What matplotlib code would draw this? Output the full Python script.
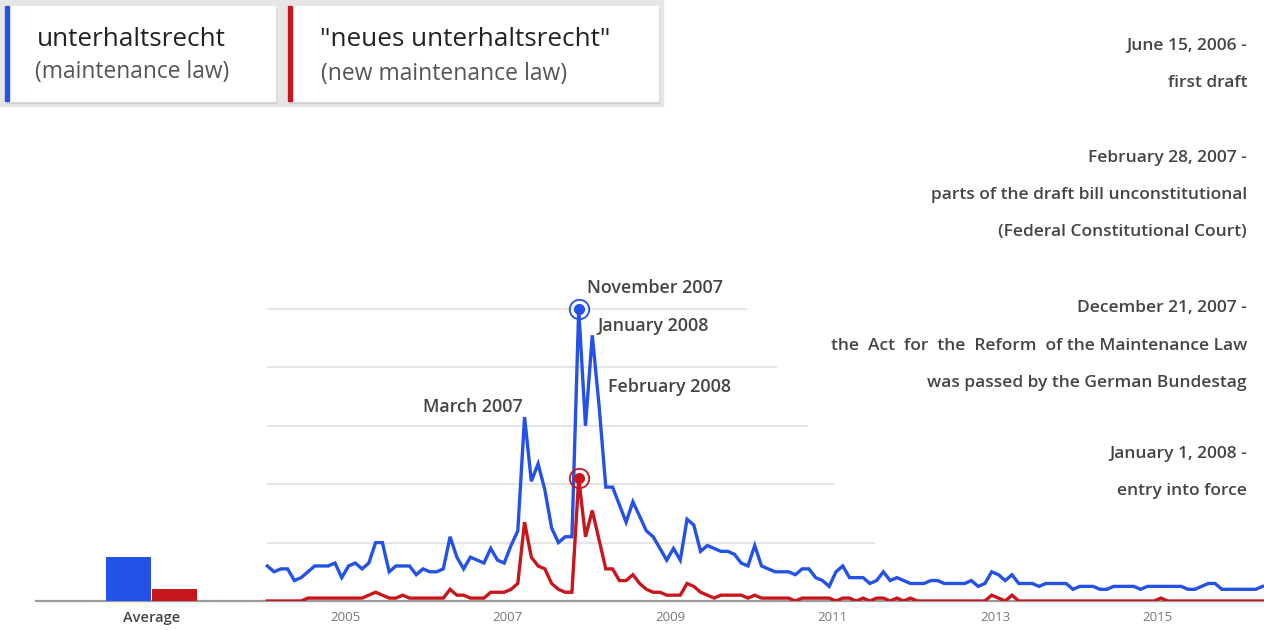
import matplotlib
matplotlib.use("Agg")
import matplotlib.pyplot as plt
from matplotlib.patches import Rectangle

plt.rcParams['font.family'] = ['Open Sans', 'DejaVu Sans']

# monthly search interest, Jan 2004 .. Apr 2016
start_year = 2004
maintenance_law = [
    12, 10, 11, 11, 7, 8, 10, 12, 12, 12,
    13, 8, 12, 13, 11, 13, 20, 20, 10, 12,
    12, 12, 9, 11, 10, 10, 11, 22, 15, 11,
    15, 14, 13, 18, 14, 13, 19, 24, 63, 41,
    47, 38, 25, 20, 22, 22, 100, 60, 91, 67,
    39, 39, 33, 27, 34, 29, 24, 22, 18, 14,
    18, 14, 28, 26, 17, 19, 18, 17, 17, 16,
    13, 12, 19, 12, 11, 10, 10, 10, 9, 11,
    11, 8, 7, 5, 10, 12, 8, 8, 8, 6,
    7, 10, 7, 8, 7, 6, 6, 6, 7, 7,
    6, 6, 6, 6, 7, 5, 6, 10, 9, 7,
    9, 6, 6, 6, 5, 6, 6, 6, 6, 4,
    5, 5, 5, 4, 4, 5, 5, 5, 5, 4,
    5, 5, 5, 5, 5, 5, 4, 4, 5, 6,
    6, 4, 4, 4, 4, 4, 4, 5,
]
new_maintenance_law = [
    0, 0, 0, 0, 0, 0, 1, 1, 1, 1,
    1, 1, 1, 1, 1, 2, 3, 2, 1, 1,
    2, 1, 1, 1, 1, 1, 1, 4, 2, 2,
    1, 1, 1, 3, 3, 3, 4, 6, 27, 15,
    12, 11, 6, 4, 3, 3, 42, 22, 31, 21,
    11, 11, 7, 7, 9, 6, 4, 3, 3, 2,
    2, 2, 6, 5, 3, 2, 1, 2, 2, 2,
    2, 1, 2, 1, 1, 1, 1, 1, 0, 1,
    1, 1, 1, 1, 0, 1, 1, 0, 1, 0,
    1, 1, 0, 1, 0, 1, 0, 0, 0, 0,
    0, 0, 0, 0, 0, 0, 0, 2, 1, 0,
    2, 0, 0, 0, 0, 0, 0, 0, 0, 0,
    0, 0, 0, 0, 0, 0, 0, 0, 0, 0,
    0, 0, 1, 0, 0, 0, 0, 0, 0, 0,
    0, 0, 0, 0, 0, 0, 0, 0,
]
averages = [15, 4]
year_labels = [2005, 2007, 2009, 2011, 2013, 2015]
grid_values = [20, 40, 60, 80, 100]

peak_labels = ["March 2007", "November 2007", "January 2008", "February 2008"]
events = [
    ("June 15, 2006 -", ["first draft"]),
    ("February 28, 2007 -", ["parts of the draft bill unconstitutional",
                             "(Federal Constitutional Court)"]),
    ("December 21, 2007 -", ["the  Act  for  the  Reform  of the Maintenance Law",
                             "was passed by the German Bundestag"]),
    ("January 1, 2008 -", ["entry into force"]),
]

BLUE = '#2451e6'
RED = '#c8161d'
TEXT = '#454545'

W, H = 1264, 630
fig = plt.figure(figsize=(W / 100, H / 100), dpi=100)

# main axes: pixel 36..1264 horizontally, baseline at y=601
ppm = 6.77          # pixels per month
x0 = 267.3          # pixel of first month
ax = fig.add_axes([36 / W, 29 / H, 1 - 36 / W, 601 / H])
ax.set_xlim((36 - x0) / ppm, (W - x0) / ppm)
ax.set_ylim(0, 601 / 2.92)
for s in ['top', 'right', 'left']:
    ax.spines[s].set_visible(False)
ax.spines['bottom'].set_color('#9a9a9a')
ax.spines['bottom'].set_linewidth(1.6)
ax.set_yticks([])

# gridlines stop short of the annotations
grid_ends = [875, 834, 808, 777, 747]
for v, e in zip(grid_values, grid_ends):
    ax.hlines(v, -0.1, (e - x0) / ppm, color='#e3e3e3', lw=1.3, zorder=1)

months = list(range(len(maintenance_law)))
ax.plot(months, maintenance_law, color=BLUE, lw=2.4, zorder=3, solid_joinstyle='miter')
ax.plot(months, new_maintenance_law, color=RED, lw=2.4, zorder=4, solid_joinstyle='miter')

# highlighted peak (November 2007)
pk = maintenance_law.index(max(maintenance_law))
for series, c in [(maintenance_law, BLUE), (new_maintenance_law, RED)]:
    ax.plot(pk, series[pk], 'o', ms=7, color=c, zorder=5)
    ax.plot(pk, series[pk], 'o', ms=14, mfc='none', mec=c, mew=1.3, zorder=5)

# average bars
bar_x = [(128.3 - x0) / ppm, (174.5 - x0) / ppm]
ax.bar(bar_x, averages, width=44.5 / ppm, color=[BLUE, RED], zorder=3)

ticks = [(y - start_year) * 12 - 0.5 for y in year_labels]
ax.set_xticks(ticks + [sum(bar_x) / 2])
ax.set_xticklabels([str(y) for y in year_labels] + ["Average"])
ax.tick_params(axis='x', length=0, pad=7, labelsize=9.5, labelcolor='#777777')
lbls = ax.get_xticklabels()
lbls[-1].set_color('#444444')
lbls[-1].set_fontweight('semibold')
lbls[-1].set_fontsize(10.5)

# overlay in pixel coordinates for the text
ov = fig.add_axes([0, 0, 1, 1])
ov.set_xlim(0, W)
ov.set_ylim(H, 0)
ov.axis('off')

# legend boxes
ov.add_patch(Rectangle((0, 0), 663, 106, color='#e6e6e6', zorder=0))
for (bx, bw, c) in [(5, 270, BLUE), (288, 370, RED)]:
    ov.add_patch(Rectangle((bx + 1, 8), bw, 95, color='#cfcfcf', zorder=1))
    ov.add_patch(Rectangle((bx, 6), bw, 95, color='white', zorder=2))
    ov.add_patch(Rectangle((bx, 6), 4, 95, color=c, zorder=3))
ov.text(37, 40, "unterhaltsrecht", fontsize=18.8, color='#222222', va='center', zorder=4)
ov.text(35, 72, "(maintenance law)", fontsize=16.4, color='#555555', va='center', zorder=4)
ov.text(320, 40, '"neues unterhaltsrecht"', fontsize=18.8, color='#222222', va='center', zorder=4)
ov.text(321, 74, "(new maintenance law)", fontsize=16.5, color='#555555', va='center', zorder=4)

# peak labels
peak_pos = [(423, 407), (587, 288), (597, 326), (608, 387)]
for t, (px, py) in zip(peak_labels, peak_pos):
    ov.text(px, py, t, fontsize=12.9, color=TEXT, fontweight='semibold', va='center')

# event notes on the right
ys = [[46, 83], [158, 195, 232], [308, 346, 383], [454, 491]]
for (head, lines), yy in zip(events, ys):
    for t, y in zip([head] + lines, yy):
        ov.text(1247, y, t, fontsize=12.5, color=TEXT, fontweight='semibold',
                ha='right', va='center')

fig.savefig("out.png", dpi=100)
